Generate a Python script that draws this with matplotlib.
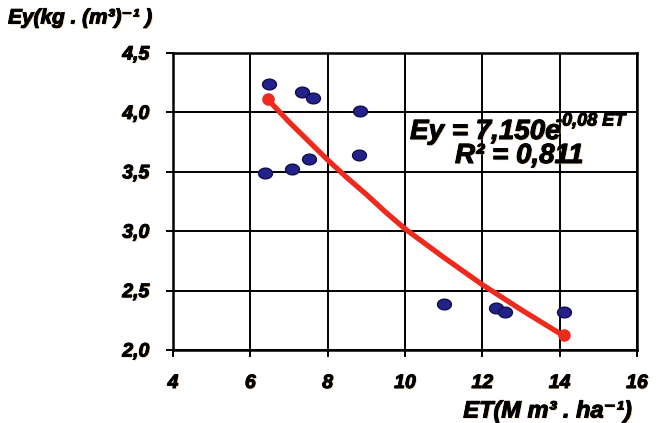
import matplotlib
matplotlib.use("Agg")
import matplotlib.pyplot as plt
import matplotlib.patheffects as pe
import numpy as np
from matplotlib.path import Path

plt.rcParams["font.family"] = ["Liberation Sans", "DejaVu Sans"]

# Observed points (ET, Ey)
et = [6.48, 7.34, 7.61, 8.83, 8.81, 7.52, 7.09, 6.39, 11.01, 12.35, 12.58, 14.10]
ey = [4.24, 4.17, 4.12, 4.01, 3.64, 3.61, 3.52, 3.49, 2.39, 2.35, 2.32, 2.32]

# Trend line
trend_x = [6.45, 7.0, 7.5, 8.0, 8.5, 9.0, 9.5, 10.0, 11.0, 12.0, 13.0, 14.0, 14.1]
trend_y = [4.11, 3.92, 3.76, 3.60, 3.45, 3.31, 3.16, 3.02, 2.78, 2.55, 2.34, 2.14, 2.13]

xticks = [4, 6, 8, 10, 12, 14, 16]
yticks = [2.0, 2.5, 3.0, 3.5, 4.0, 4.5]

W, H = 666, 423
fig = plt.figure(figsize=(W / 100, H / 100), dpi=100)
ax = fig.add_axes([173 / W, 1 - 350 / H, (637 - 173) / W, (350 - 53) / H])

# elliptical marker
t = np.linspace(0, 2 * np.pi, 60)
ell = Path(np.column_stack([1.3 * np.cos(t), np.sin(t)]), closed=True)

ax.plot(trend_x, trend_y, color="#ee2a1e", lw=3.8, solid_capstyle="round", zorder=3)
ax.plot([trend_x[0], trend_x[-1]], [trend_y[0], trend_y[-1]], ls="none",
        marker="o", ms=8, color="#ee2a1e", zorder=3)
ax.plot(et, ey, ls="none", marker=ell, ms=10, mfc="#22228a", mec="#10104a",
        mew=1.0, zorder=4)

ax.set_xlim(4, 16)
ax.set_ylim(2.0, 4.5)
ax.set_xticks(xticks)
ax.set_yticks(yticks)
ax.set_xticklabels([str(v) for v in xticks])
ax.set_yticklabels([f"{v:.1f}".replace(".", ",") for v in yticks])
ax.grid(True, color="black", lw=1.4)
ax.set_axisbelow(True)
for s in ax.spines.values():
    s.set_linewidth(1.8)
ax.tick_params(axis="both", direction="out", length=5, width=1.4, color="black")
ax.tick_params(axis="y", pad=12)
ax.tick_params(axis="x", pad=13)

# heavy text with a faint orange halo, as in the scanned figure
glow = [pe.withSimplePatchShadow(offset=(0.8, -0.8), shadow_rgbFace="#e8a050", alpha=0.5),
        pe.withStroke(linewidth=0.7, foreground="black")]
for lab in ax.get_xticklabels() + ax.get_yticklabels():
    lab.set_fontsize(14)
    lab.set_fontweight("bold")
    lab.set_fontstyle("italic")
    lab.set_path_effects(glow)

tk = dict(fontweight="bold", fontstyle="italic", color="black", path_effects=glow)
fig.text(8 / W, 1 - 18 / H, "Ey(kg . (m³)⁻¹ )", fontsize=15, va="center", ha="left", **tk)
fig.text(632 / W, 1 - 411 / H, "ET(M m³ . ha⁻¹)", fontsize=17, va="center", ha="right", **tk)

fig.text(410 / W, 1 - 132 / H, "Ey = 7,150e", fontsize=20, va="center", ha="left", **tk)
fig.text(556 / W, 1 - 121 / H, "-0,08 ET", fontsize=13, va="center", ha="left", **tk)
fig.text(455 / W, 1 - 156 / H, "R² = 0,811", fontsize=20, va="center", ha="left", **tk)

fig.savefig("out.png", dpi=100)
